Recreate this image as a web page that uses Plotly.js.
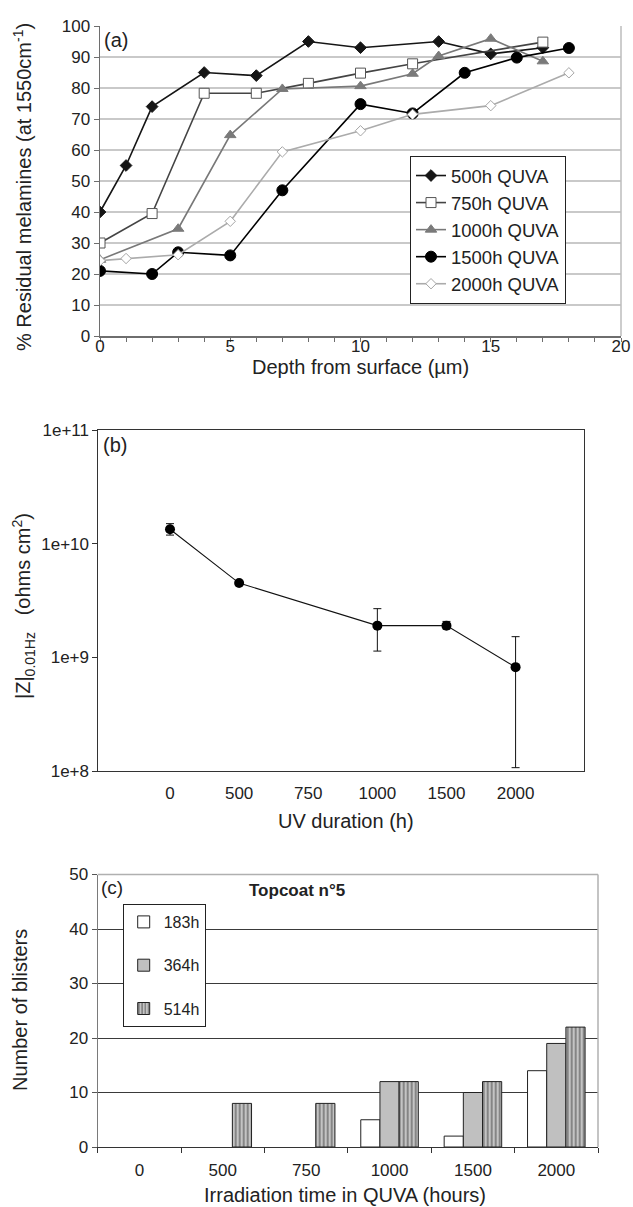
<!DOCTYPE html>
<html>
<head>
<meta charset="utf-8">
<script src="https://cdn.plot.ly/plotly-3.0.1.min.js"></script>
<style>
html,body{margin:0;padding:0;background:#fff;}
#chart{width:633px;height:1207px;}
</style>
</head>
<body>
<div id="chart"></div>
<script>
// ---------- Panel (a) data ----------
const depth500 = [0, 1, 2, 4, 6, 8, 10, 13, 15, 17];
const res500   = [40, 55, 74, 85, 84, 95, 93, 95, 91, 93];
const depth750 = [0, 2, 4, 6, 8, 10, 12, 17];
const res750   = [30, 39.5, 78.3, 78.3, 81.5, 84.8, 87.8, 94.8];
const depth1000 = [0, 3, 5, 7, 10, 12, 13, 15, 17];
const res1000   = [24.6, 34.6, 64.8, 79.7, 80.6, 84.6, 90.3, 95.9, 88.6];
const depth1500 = [0, 2, 3, 5, 7, 10, 12, 14, 16, 18];
const res1500   = [21, 20, 27, 26, 47, 74.8, 71.8, 84.9, 89.8, 92.9];
const depth2000 = [0, 1, 3, 5, 7, 10, 12, 15, 18];
const res2000   = [24.3, 25, 26.2, 37, 59.4, 66.2, 71.5, 74.3, 84.9];
const seriesNamesA = ["500h QUVA", "750h QUVA", "1000h QUVA", "1500h QUVA", "2000h QUVA"];

// ---------- Panel (b) data ----------
const uvCategories = ["0", "500", "750", "1000", "1500", "2000"];
const uvX      = ["0", "500", "1000", "1500", "2000"];
const zModulus = [1.34e10, 4.5e9, 1.9e9, 1.9e9, 8.2e8];
const zErrPlus  = [1.6e9, 0, 7.8e8, 1.7e8, 7.0e8];
const zErrMinus = [1.5e9, 0, 7.65e8, 1.2e8, 7.13e8];

// ---------- Panel (c) data ----------
const irrCategories = ["0", "500", "750", "1000", "1500", "2000"];
const blisters183 = [0, 0, 0, 5, 2, 14];
const blisters364 = [0, 0, 0, 12, 10, 19];
const blisters514 = [0, 8, 8, 12, 12, 22];
const seriesNamesC = ["183h", "364h", "514h"];

// ---------- layout helpers ----------
const W = 633, H = 1207;
const px = v => v / W;
const py = v => 1 - v / H;
const FONT = "Liberation Sans, Arial, sans-serif";

const traces = [];
// Panel (a)
const styleA = [
  {lc:"#151515", sym:"diamond", ms:9, mc:"#151515", ml:"#151515"},
  {lc:"#444444", sym:"square", ms:10, mc:"#ffffff", ml:"#555555"},
  {lc:"#787878", sym:"triangle-up", ms:10, mc:"#7a7a7a", ml:"#7a7a7a"},
  {lc:"#000000", sym:"circle", ms:11, mc:"#000000", ml:"#000000"},
  {lc:"#ababab", sym:"diamond", ms:8, mc:"#ffffff", ml:"#a5a5a5"}
];
const dataA = [[depth500,res500],[depth750,res750],[depth1000,res1000],[depth1500,res1500],[depth2000,res2000]];
dataA.forEach((d,i)=>{
  const s = styleA[i];
  traces.push({
    type:"scatter", mode:"lines+markers", x:d[0], y:d[1], name:seriesNamesA[i],
    xaxis:"x", yaxis:"y", legend:"legend", legendgroup:"a"+i,
    line:{color:s.lc, width:1.6},
    marker:{symbol:s.sym, size:s.ms, color:s.mc, line:{color:s.ml, width:1}}
  });
});
// Panel (b)
traces.push({
  type:"scatter", mode:"lines+markers", x:uvX, y:zModulus, xaxis:"x2", yaxis:"y2",
  showlegend:false, line:{color:"#111", width:1.1},
  marker:{symbol:"circle", size:10, color:"#000"},
  error_y:{type:"data", symmetric:false, array:zErrPlus, arrayminus:zErrMinus,
           color:"#111", thickness:1, width:4}
});
// Panel (c)
const barStyles = [
  {color:"#ffffff", pattern:null},
  {color:"#c0c0c0", pattern:null},
  {color:"#c4c4c4", pattern:{shape:"|", fgcolor:"#6a6a6a", bgcolor:"#c4c4c4", size:4, solidity:0.35, fillmode:"replace"}}
];
[blisters183, blisters364, blisters514].forEach((vals,i)=>{
  const m = {color:barStyles[i].color, line:{color:"#222", width:1}};
  if (barStyles[i].pattern) m.pattern = barStyles[i].pattern;
  traces.push({
    type:"bar", x:irrCategories,
    y:vals.map(v => v === 0 ? null : v),   // zero-height bars are not drawn in the reference
    name:seriesNamesC[i],
    xaxis:"x3", yaxis:"y3", legend:"legend2", legendgroup:"c"+i,
    marker:m
  });
});

const tickFont = {family:FONT, size:17, color:"#222"};
const titleFont = {family:FONT, size:20, color:"#222"};

function ann(text, x, y, font, extra) {
  return Object.assign({text:text, x:px(x), y:py(y), xref:"paper", yref:"paper",
    showarrow:false, xanchor:"center", yanchor:"middle", font:font}, extra || {});
}

const layout = {
  width:W, height:H, margin:{l:0,r:0,t:0,b:0},
  paper_bgcolor:"#ffffff", plot_bgcolor:"rgba(0,0,0,0)",
  font:{family:FONT, color:"#222"},
  barmode:"group", bargap:0.31, bargroupgap:0,
  // (a)
  xaxis:{domain:[px(100), px(621)], anchor:"y", range:[0,20], dtick:5, tick0:0,
         showgrid:false, zeroline:false, showline:true, linecolor:"#6e6e6e", linewidth:1.5,
         ticks:"outside", ticklen:4, tickcolor:"#6e6e6e", ticklabelstandoff:-10,
         minor:{dtick:1, ticks:"outside", ticklen:4, tickcolor:"#6e6e6e", showgrid:false},
         tickfont:tickFont, fixedrange:true},
  yaxis:{domain:[py(336), py(26)], anchor:"x", range:[0,100], dtick:10,
         showgrid:true, gridcolor:"#c9c9c9", gridwidth:1.2, zeroline:false,
         showline:true, linecolor:"#6e6e6e", linewidth:1.5, ticks:"outside", ticklen:5,
         tickcolor:"#6e6e6e", tickfont:tickFont, fixedrange:true},
  // (b)
  xaxis2:{domain:[px(98.4), px(584)], anchor:"y2", type:"category",
          categoryorder:"array", categoryarray:uvCategories, range:[-1.036, 5.99],
          showgrid:false, zeroline:false, showline:true, mirror:true, linecolor:"#333", linewidth:1,
          ticks:"", ticklabelstandoff:7, tickfont:tickFont, fixedrange:true},
  yaxis2:{domain:[py(771), py(430)], anchor:"x2", type:"log", range:[8,11],
          tickvals:[1e8,1e9,1e10,1e11], ticktext:["1e+8","1e+9","1e+10","1e+11"],
          showgrid:false, zeroline:false, showline:true, mirror:true, linecolor:"#333", linewidth:1,
          ticks:"outside", ticklen:5, tickcolor:"#333", tickfont:tickFont, fixedrange:true},
  // (c)
  xaxis3:{domain:[px(97.7), px(598)], anchor:"y3", type:"category",
          categoryorder:"array", categoryarray:irrCategories, range:[-0.5,5.5],
          showgrid:false, zeroline:false, showline:true, linecolor:"#333", linewidth:1.2,
          ticks:"outside", tickson:"boundaries", ticklen:5, tickcolor:"#333",
          ticklabelstandoff:7, tickfont:tickFont, fixedrange:true},
  yaxis3:{domain:[py(1147), py(874.5)], anchor:"x3", range:[0,50], dtick:10,
          showgrid:true, gridcolor:"#3a3a3a", gridwidth:1, zeroline:false,
          showline:true, linecolor:"#7a7a7a", linewidth:1.2, ticks:"outside", ticklen:5,
          tickcolor:"#555", tickfont:tickFont, fixedrange:true},
  legend:{x:px(410), y:py(156), xanchor:"left", yanchor:"top",
          bordercolor:"#222", borderwidth:1, bgcolor:"#ffffff",
          font:{family:FONT, size:18.5, color:"#222"}, traceorder:"grouped",
          tracegroupgap:0, itemwidth:30},
  legend2:{x:px(122.7), y:py(904), xanchor:"left", yanchor:"top",
          bordercolor:"#222", borderwidth:1, bgcolor:"#ffffff",
          font:{family:FONT, size:16, color:"#222"}, traceorder:"grouped",
          tracegroupgap:19.5, itemwidth:30},
  shapes:[
    {type:"line", xref:"paper", yref:"paper", x0:px(621), x1:px(621), y0:py(336), y1:py(26),
     line:{color:"#bdbdbd", width:1.5}},
    {type:"line", xref:"paper", yref:"paper", x0:px(97.7), x1:px(598), y0:py(874.5), y1:py(874.5),
     line:{color:"#b0b0b0", width:1.5}},
    {type:"line", xref:"paper", yref:"paper", x0:px(598), x1:px(598), y0:py(1147), y1:py(874.5),
     line:{color:"#b0b0b0", width:1.5}}
  ],
  annotations:[
    ann("(a)", 116, 40, {family:FONT, size:20, color:"#222"}),
    ann("(b)", 115, 445, {family:FONT, size:20, color:"#222"}),
    ann("(c)", 112, 887, {family:FONT, size:19, color:"#222"}),
    ann("<b>Topcoat n°5</b>", 297, 890, {family:FONT, size:17, color:"#222"}),
    ann("% Residual melamines (at 1550cm<sup>-1</sup>)", 22, 187, titleFont, {textangle:-90}),
    ann("Depth from surface (µm)", 360, 367, titleFont),
    ann("|Z|<sub>0.01Hz</sub>   (ohms cm<sup>2</sup>)", 23, 606, {family:FONT, size:20, color:"#222"}, {textangle:-90}),
    ann("UV duration (h)", 346, 821, titleFont),
    ann("Number of blisters", 20, 1010, titleFont, {textangle:-90}),
    ann("Irradiation time in QUVA (hours)", 345, 1195, titleFont)
  ]
};

Plotly.newPlot("chart", traces, layout, {staticPlot:true, displayModeBar:false});
</script>
</body>
</html>
